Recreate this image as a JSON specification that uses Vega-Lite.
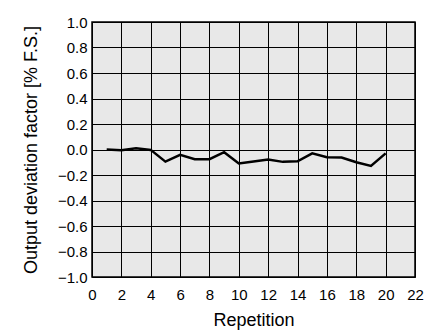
{
  "$schema": "https://vega.github.io/schema/vega-lite/v6.json",
  "width": 323,
  "height": 255,
  "autosize": {"type": "none"},
  "padding": {"left": 92, "top": 22, "right": 29, "bottom": 59},
  "background": "white",
  "config": {
    "font": "Liberation Sans",
    "view": {"fill": "#e8e8e8", "stroke": "black", "strokeWidth": 1.5}
  },
  "data": {
    "values": [
      {"rep": 1, "dev": 0.0},
      {"rep": 2, "dev": -0.005},
      {"rep": 3, "dev": 0.01},
      {"rep": 4, "dev": -0.003},
      {"rep": 5, "dev": -0.095},
      {"rep": 6, "dev": -0.042},
      {"rep": 7, "dev": -0.076},
      {"rep": 8, "dev": -0.076},
      {"rep": 9, "dev": -0.021},
      {"rep": 10, "dev": -0.11},
      {"rep": 11, "dev": -0.095},
      {"rep": 12, "dev": -0.079},
      {"rep": 13, "dev": -0.097},
      {"rep": 14, "dev": -0.092},
      {"rep": 15, "dev": -0.03},
      {"rep": 16, "dev": -0.06},
      {"rep": 17, "dev": -0.063},
      {"rep": 18, "dev": -0.1},
      {"rep": 19, "dev": -0.129},
      {"rep": 20, "dev": -0.03}
    ]
  },
  "mark": {"type": "line", "color": "black", "strokeWidth": 2.5},
  "encoding": {
    "x": {
      "field": "rep",
      "type": "quantitative",
      "scale": {"domain": [0, 22], "nice": false},
      "axis": {
        "values": [0, 2, 4, 6, 8, 10, 12, 14, 16, 18, 20, 22],
        "title": "Repetition",
        "grid": true,
        "gridColor": "black",
        "gridOpacity": 1,
        "gridWidth": 1,
        "ticks": false,
        "tickSize": 0,
        "domain": false,
        "labelPadding": 10,
        "labelFontSize": 15,
        "labelColor": "black",
        "labelFlush": false,
        "titleFontSize": 18,
        "titleFontWeight": "normal",
        "titleColor": "black",
        "titleBaseline": "alphabetic",
        "titleY": 48
      }
    },
    "y": {
      "field": "dev",
      "type": "quantitative",
      "scale": {"domain": [-1, 1], "nice": false},
      "axis": {
        "values": [-1, -0.8, -0.6, -0.4, -0.2, 0, 0.2, 0.4, 0.6, 0.8, 1],
        "format": ".1f",
        "title": "Output deviation factor [% F.S.]",
        "grid": true,
        "gridColor": "black",
        "gridOpacity": 1,
        "gridWidth": 1,
        "ticks": false,
        "tickSize": 0,
        "domain": false,
        "labelPadding": 5,
        "labelFontSize": 15,
        "labelColor": "black",
        "labelFlush": false,
        "titleFontSize": 18,
        "titleFontWeight": "normal",
        "titleColor": "black",
        "titleBaseline": "alphabetic",
        "titleX": -56
      }
    }
  }
}
